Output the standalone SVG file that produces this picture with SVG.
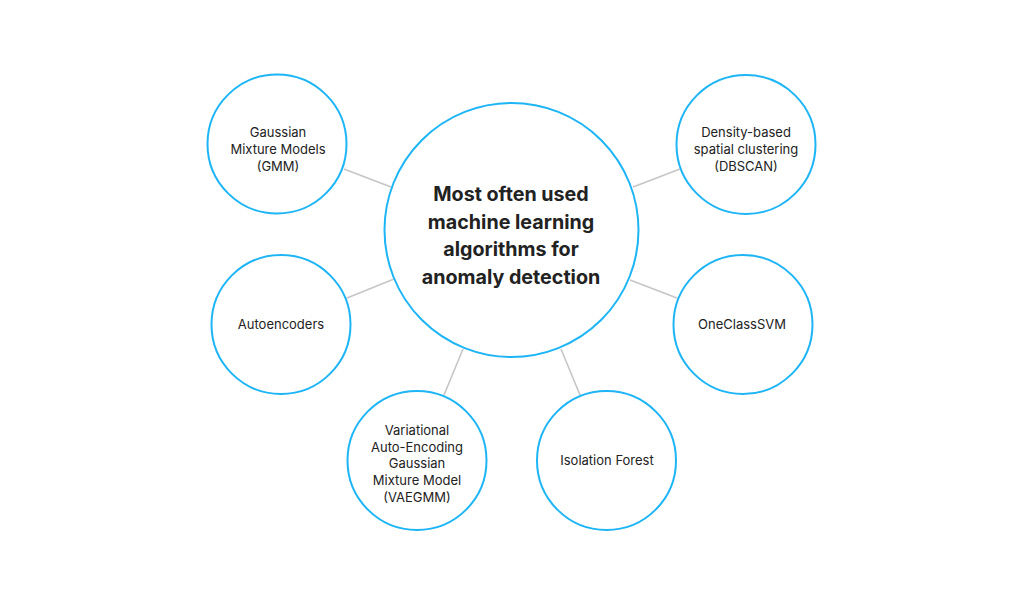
<svg xmlns="http://www.w3.org/2000/svg" width="1024" height="606" viewBox="0 0 1024 606">
<style>
.c{fill:#fff;stroke:#1db5f6;stroke-width:2}
.l{stroke:#c6c6c6;stroke-width:1.6;fill:none}
.t{font-family:Inter,"Liberation Sans",sans-serif;font-size:13px;fill:#222;text-anchor:middle}
.h{font-family:Inter,"Liberation Sans",sans-serif;font-size:19.7px;font-weight:700;fill:#222;text-anchor:middle}
</style>
<rect width="1024" height="606" fill="#fff"/>
<g id="connectors">
<line class="l" x1="344" y1="169" x2="391" y2="187"/>
<line class="l" x1="680" y1="169" x2="633" y2="187"/>
<line class="l" x1="347" y1="298" x2="394" y2="279"/>
<line class="l" x1="677" y1="298" x2="630" y2="280"/>
<line class="l" x1="463" y1="349" x2="444" y2="395"/>
<line class="l" x1="561" y1="349" x2="580" y2="395"/>
</g>
<g id="center">
<circle class="c" cx="511.5" cy="230" r="127"/>
<text class="h" x="511" y="201">Most often used</text>
<text class="h" x="511" y="229">machine learning</text>
<text class="h" x="511" y="256">algorithms for</text>
<text class="h" x="511" y="284">anomaly detection</text>
</g>
<g id="gmm">
<circle class="c" cx="277" cy="144" r="69.5"/>
<text class="t" x="278" y="137">Gaussian</text>
<text class="t" x="278" y="154">Mixture Models</text>
<text class="t" x="278" y="171">(GMM)</text>
</g>
<g id="dbscan">
<circle class="c" cx="746" cy="144.5" r="69.5"/>
<text class="t" x="746" y="137">Density-based</text>
<text class="t" x="746" y="154">spatial clustering</text>
<text class="t" x="746" y="171">(DBSCAN)</text>
</g>
<g id="autoencoders">
<circle class="c" cx="281" cy="324.5" r="69.5"/>
<text class="t" x="281" y="329">Autoencoders</text>
</g>
<g id="ocsvm">
<circle class="c" cx="743" cy="324.5" r="69.5"/>
<text class="t" x="742" y="329">OneClassSVM</text>
</g>
<g id="vaegmm">
<circle class="c" cx="417" cy="460.5" r="69.5"/>
<text class="t" x="417" y="435">Variational</text>
<text class="t" x="417" y="452">Auto-Encoding</text>
<text class="t" x="417" y="468">Gaussian</text>
<text class="t" x="417" y="485">Mixture Model</text>
<text class="t" x="417" y="502">(VAEGMM)</text>
</g>
<g id="iforest">
<circle class="c" cx="606.5" cy="460.5" r="69.5"/>
<text class="t" x="607" y="465">Isolation Forest</text>
</g>
</svg>
